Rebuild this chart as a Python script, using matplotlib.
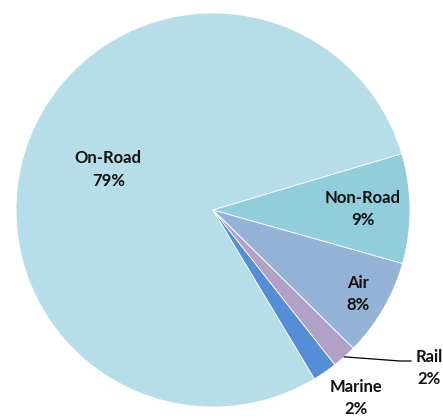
import numpy as np
import matplotlib.pyplot as plt

# Share of emissions by transport mode
modes = ["On-Road", "Non-Road", "Air", "Rail", "Marine"]
shares = [79, 9, 8, 2, 2]
colors = ["#B7DDE8", "#92CDDC", "#95B3D7", "#B2A1C7", "#558ED5"]

plt.rcParams["font.family"] = ["Lato", "DejaVu Sans"]

fig = plt.figure(figsize=(4.43, 4.18), dpi=100)
ax = fig.add_axes([0, 0, 1, 1])

R = 197.0
cx, cy = 213.0, 210.0

wedges, _ = ax.pie(shares, colors=colors, startangle=16.6 + shares[0] * 3.6,
                   counterclock=False, radius=1.0, center=(0, 0), frame=True,
                   wedgeprops=dict(edgecolor="white", linewidth=0.6))
ax.set_xlim(-cx / R, (443 - cx) / R)
ax.set_ylim((cy - 418) / R, cy / R)
ax.set_aspect("equal")
ax.axis("off")

# distance of each label from the centre, inside slices
label_r = {"On-Road": 0.57, "Non-Road": 0.76, "Air": 0.85}
txt = dict(ha="center", va="center", fontsize=12, fontweight="bold",
           color="#111111", linespacing=1.5)

for w, name, val in zip(wedges, modes, shares):
    mid = np.deg2rad((w.theta1 + w.theta2) / 2)
    label = f"{name}\n{val}%"
    if name in label_r:
        r = label_r[name]
        ax.text(r * np.cos(mid), r * np.sin(mid), label, **txt)
    elif name == "Rail":
        x0, y0 = np.cos(mid), np.sin(mid)
        ax.plot([x0, (400 - cx) / R, (411 - cx) / R],
                [y0, (cy - 361) / R, (cy - 361) / R], color="black", lw=0.9)
        ax.text((429 - cx) / R, (cy - 368) / R, label, **txt)
    else:
        ax.text((356 - cx) / R, (cy - 398) / R, label, **txt)

fig.savefig("out.png", dpi=100)
